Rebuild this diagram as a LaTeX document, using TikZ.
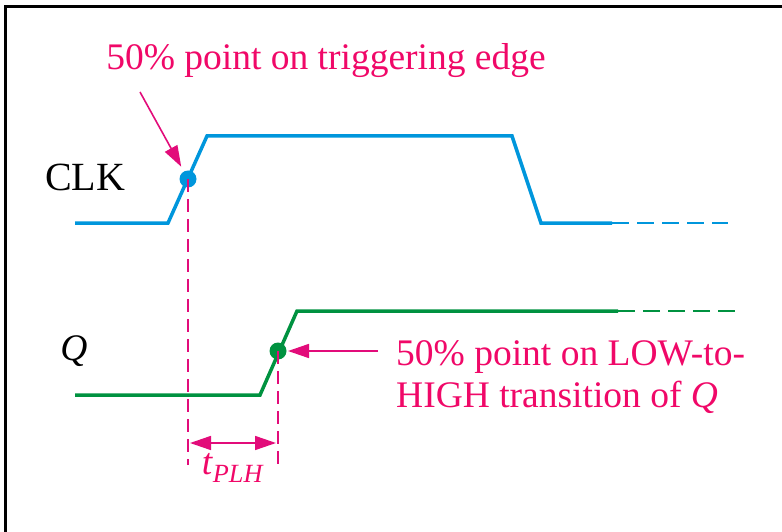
\documentclass[tikz,border=0pt]{standalone}
\usepackage{fontspec}
\setmainfont{Liberation Serif}
\usetikzlibrary{arrows.meta}
\usepackage{xcolor}

\definecolor{clkblue}{RGB}{0,150,220}
\definecolor{qgreen}{RGB}{0,146,64}
\definecolor{notepink}{RGB}{226,12,122}
\definecolor{notetext}{RGB}{240,8,104}

\tikzset{
    wave/.style = {line width = 3.5pt, line join = miter},
    waveext/.style = {line width = 1.8pt, dash pattern = on 17pt off 8pt},
    guide/.style = {notepink, line width = 1.3pt, dash pattern = on 13pt off 7pt},
    pointer/.style = {notepink, line width = 1.6pt, -{Triangle[length=21pt, width=14pt]}},
    note/.style = {text = notetext, font = \fontsize{37.5}{42}\selectfont, inner sep = 0pt}
}

\begin{document}
\begin{tikzpicture}[x = 1pt, y = -1pt]

    \useasboundingbox (0,0) rectangle (782,532);
    \draw[line width = 3pt] (5,540) -- (5,7) -- (790,7);

    % CLK
    \node[font = \fontsize{40}{44}\selectfont, inner sep = 0pt] (clklabel) at (85,177) {CLK};
    \draw[wave, clkblue] (75,223) -- (168,223) -- (207,136) -- (512,136) -- (541,223) -- (612,223);
    \draw[waveext, clkblue] (612,223) -- (728,223);
    \coordinate (clkmid) at (188,179);
    \fill[clkblue] (clkmid) circle (8.5pt);

    % Q
    \node[font = \fontsize{37.5}{44}\selectfont\itshape, inner sep = 0pt] (qlabel) at (74,351) {Q};
    \draw[wave, qgreen] (75,395) -- (260,395) -- (297,311) -- (618,311);
    \draw[waveext, qgreen] (618,311) -- (735,311);
    \coordinate (qmid) at (278,351);
    \fill[qgreen] (qmid) circle (8.5pt);

    % propagation delay
    \coordinate (clkfoot) at (188,465);
    \coordinate (qfoot) at (278,465);
    \draw[guide] (clkmid) -- (clkfoot);
    \draw[guide] (qmid) -- (qfoot);
    \coordinate (tplhleft) at (188,443);
    \coordinate (tplhright) at (278,443);
    \draw[pointer, {Triangle[length=21pt, width=14pt]}-{Triangle[length=21pt, width=14pt]}, shorten <= 2pt, shorten >= 2pt]
        (tplhleft) -- (tplhright);
    \node[note, anchor = north] (tplh) at (233,453) {\textit{t}\textsubscript{\textit{PLH}}};

    % notes
    \node[note] (trignote) at (326,61) {50\% point on triggering edge};
    \coordinate (trigtail) at (140,92);
    \draw[pointer, shorten >= 14pt] (trigtail) -- (clkmid);

    \node[note, anchor = west, align = left] (lownote) at (396,377)
        {50\% point on LOW-to-\\HIGH transition of \textit{Q}};
    \coordinate (lowtail) at (378,351);
    \draw[pointer, shorten >= 10pt] (lowtail) -- (qmid);

\end{tikzpicture}
\end{document}
